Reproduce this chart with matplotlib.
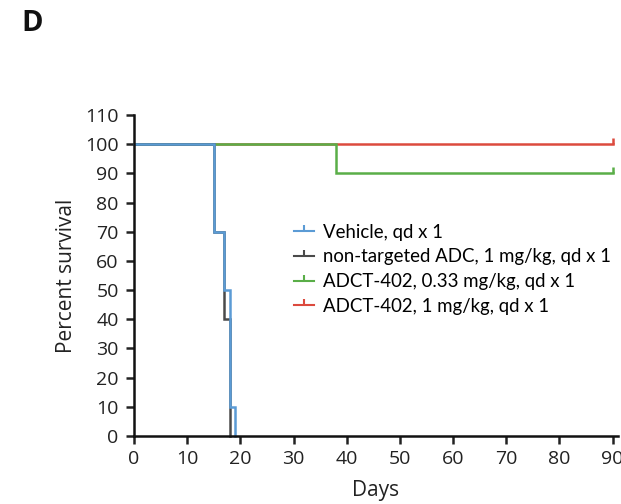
import matplotlib.pyplot as plt
from matplotlib.lines import Line2D

# Kaplan-Meier steps: (day, percent surviving from that day on)
vehicle_days = [0, 15, 17, 18, 19]
vehicle_surv = [100, 70, 50, 10, 0]

nontarget_days = [0, 15, 17, 18]
nontarget_surv = [100, 70, 40, 0]

adct_033_days = [0, 38, 90]
adct_033_surv = [100, 90, 90]

adct_1_days = [0, 90]
adct_1_surv = [100, 100]

series_labels = [
    "Vehicle, qd x 1",
    "non-targeted ADC, 1 mg/kg, qd x 1",
    "ADCT-402, 0.33 mg/kg, qd x 1",
    "ADCT-402, 1 mg/kg, qd x 1",
]
series_colors = ["#5b9bd5", "#4a4a4a", "#5aae48", "#dc4a3e"]

x_ticks = list(range(0, 91, 10))
y_ticks = list(range(0, 111, 10))

plt.rcParams['font.family'] = ['Open Sans', 'DejaVu Sans']

fig = plt.figure(figsize=(6.21, 5.04), dpi=100)
ax = fig.add_axes([134 / 621, 68 / 504, 484 / 621, 321 / 504])

# draw in reverse so the vehicle curve ends on top
curves = [
    (vehicle_days, vehicle_surv),
    (nontarget_days, nontarget_surv),
    (adct_033_days, adct_033_surv),
    (adct_1_days, adct_1_surv),
]
for (days, surv), color in reversed(list(zip(curves, series_colors))):
    ax.step(days, surv, where='post', color=color, lw=1.8, clip_on=False,
            solid_joinstyle='miter')

# censor marks at the end of follow-up
for days, surv, color in [(adct_033_days, adct_033_surv, series_colors[2]),
                          (adct_1_days, adct_1_surv, series_colors[3])]:
    ax.plot(days[-1], surv[-1], marker=2, color=color, ms=4, mew=1.8,
            clip_on=False)

ax.set_xlim(0, 91)
ax.set_ylim(0, 110)
ax.set_xticks(x_ticks)
ax.set_yticks(y_ticks)
ax.tick_params(direction='out', length=6, width=1.8, labelsize=14,
               colors='#222222')
ax.tick_params(axis='y', pad=5)
ax.tick_params(axis='x', pad=4)
for side in ['top', 'right']:
    ax.spines[side].set_visible(False)
for side in ['left', 'bottom']:
    ax.spines[side].set_linewidth(1.8)
    ax.spines[side].set_color('#111111')

ax.set_xlabel("Days", fontsize=15, color='#222222', labelpad=9)
ax.set_ylabel("Percent survival", fontsize=15, color='#222222', labelpad=6)

handles = [Line2D([0], [0], color=c, lw=1.5, marker=2, ms=4, mew=1.5)
           for c in series_colors]
ax.legend(handles, series_labels, loc='upper left',
          bbox_to_anchor=(0.315, 0.685), frameon=False,
          handlelength=1.1, handletextpad=0.45, labelspacing=0.42,
          borderaxespad=0, prop={'family': ['Lato', 'DejaVu Sans'], 'size': 13.4})

fig.text(21 / 621, 1 - 31 / 504, "D", fontsize=21, fontweight='bold',
         family=['Open Sans', 'DejaVu Sans'], color='#111111')

fig.savefig("out.png", dpi=100)
